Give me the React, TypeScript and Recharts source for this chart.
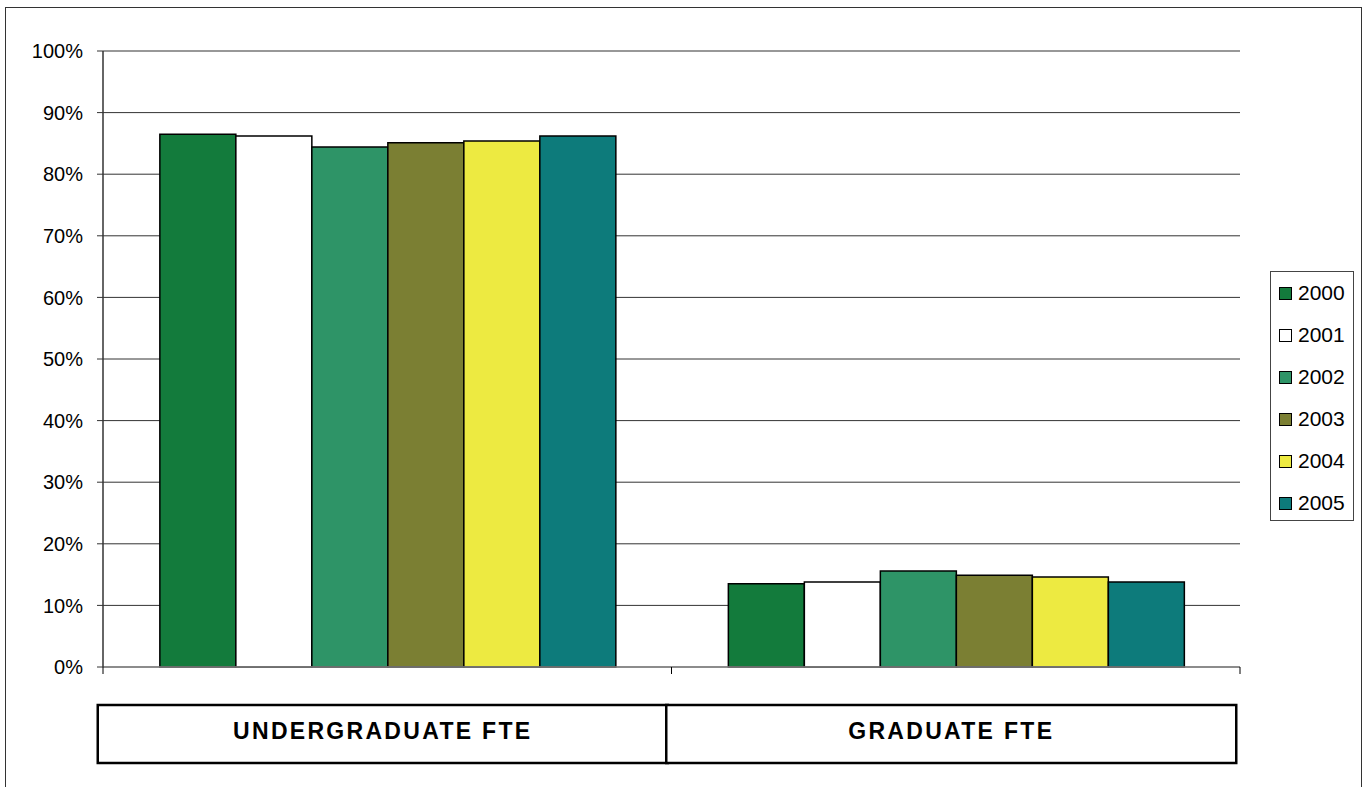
import { BarChart, Bar, XAxis, YAxis, CartesianGrid, ReferenceLine } from 'recharts';

const categories = ['UNDERGRADUATE FTE', 'GRADUATE FTE'];
const years = ['2000', '2001', '2002', '2003', '2004', '2005'];
const colors = ['#137B3C', '#FFFFFF', '#2E9467', '#7B7F33', '#EDEA41', '#0D7B7B'];

// share of FTE per year
const undergraduate = [0.865, 0.862, 0.844, 0.851, 0.854, 0.862];
const graduate = [0.135, 0.138, 0.156, 0.149, 0.146, 0.138];

const yTicks = [0, 0.1, 0.2, 0.3, 0.4, 0.5, 0.6, 0.7, 0.8, 0.9, 1];

const W = 1364;
const H = 787;
const LEFT = 103;
const RIGHT = 124;
const BAND = (W - LEFT - RIGHT) / categories.length;
const FONT = '"Liberation Sans", Arial, sans-serif';

const data = categories.map((name, i) => {
  const row: Record<string, string | number> = { name };
  const src = i === 0 ? undergraduate : graduate;
  years.forEach((y, j) => {
    row[y] = src[j];
  });
  return row;
});

function CategoryTick(props: any) {
  const { x, y, payload, index } = props;
  const half = BAND / 2;
  const cx = x - 4.5;
  return (
    <g>
      <line x1={x - half} x2={x - half} y1={y} y2={y + 7} stroke="#000" strokeWidth={1} />
      {index === categories.length - 1 && (
        <line x1={x + half} x2={x + half} y1={y} y2={y + 7} stroke="#000" strokeWidth={1} />
      )}
      <rect x={cx - 285} y={y + 38} width={570} height={58} fill="#fff" stroke="#000" strokeWidth={2.5} />
      <text
        x={cx}
        y={y + 64}
        textAnchor="middle"
        dominantBaseline="central"
        fontFamily={FONT}
        fontWeight="bold"
        fontSize={23}
        letterSpacing={2.3}
        fill="#000"
      >
        {payload.value}
      </text>
    </g>
  );
}

function YearLegend() {
  return (
    <div
      style={{
        position: 'absolute',
        left: 1270,
        top: 271,
        width: 84,
        height: 250,
        border: '1px solid #444',
        boxSizing: 'border-box',
        background: '#fff',
        fontFamily: FONT,
      }}
    >
      {years.map((y, i) => (
        <div
          key={y}
          style={{ position: 'absolute', left: 8, top: 21 + i * 42 - 12, height: 24, display: 'flex', alignItems: 'center' }}
        >
          <div style={{ width: 11, height: 11, background: colors[i], border: '1.5px solid #000' }} />
          <span style={{ fontSize: 21, color: '#000', marginLeft: 6 }}>{y}</span>
        </div>
      ))}
    </div>
  );
}

export default function App() {
  return (
    <div style={{ position: 'absolute', left: 0, top: 0, width: W, height: H, background: '#fff', overflow: 'hidden' }}>
      <div
        style={{
          position: 'absolute',
          left: 5,
          top: 7,
          width: 1357,
          height: 800,
          border: '1.5px solid #333',
          boxSizing: 'border-box',
        }}
      />
      <BarChart
        width={W}
        height={H}
        data={data}
        margin={{ top: 51, right: RIGHT, left: 0, bottom: 0 }}
        barCategoryGap="10%"
        barGap={0}
        style={{ position: 'absolute', left: 0, top: 0 }}
      >
        <CartesianGrid vertical={false} stroke="#333" strokeWidth={1} yAxisId="l" />
        <XAxis
          dataKey="name"
          height={120}
          axisLine={{ stroke: '#888', strokeWidth: 1.5 }}
          tickLine={false}
          tickSize={0}
          tickMargin={0}
          tick={<CategoryTick />}
          interval={0}
        />
        <YAxis
          yAxisId="l"
          width={LEFT}
          domain={[0, 1]}
          ticks={yTicks}
          interval={0}
          tickFormatter={(v: number) => `${Math.round(v * 100)}%`}
          axisLine={{ stroke: '#333', strokeWidth: 1.5 }}
          tickLine={{ stroke: '#333' }}
          tickSize={6}
          tickMargin={14}
          tick={{ fontSize: 20, fill: '#000', fontFamily: FONT }}
        />
        <YAxis
          yAxisId="r"
          orientation="right"
          width={0}
          domain={[0, 1]}
          tick={false}
          tickLine={false}
          axisLine={{ stroke: '#999', strokeWidth: 1.5 }}
        />
        <ReferenceLine yAxisId="l" y={1} stroke="#999" strokeWidth={1.5} />
        {years.map((y, i) => (
          <Bar
            key={y}
            yAxisId="l"
            dataKey={y}
            fill={colors[i]}
            stroke="#000"
            strokeWidth={1.5}
            isAnimationActive={false}
          />
        ))}
      </BarChart>
      <YearLegend />
    </div>
  );
}
